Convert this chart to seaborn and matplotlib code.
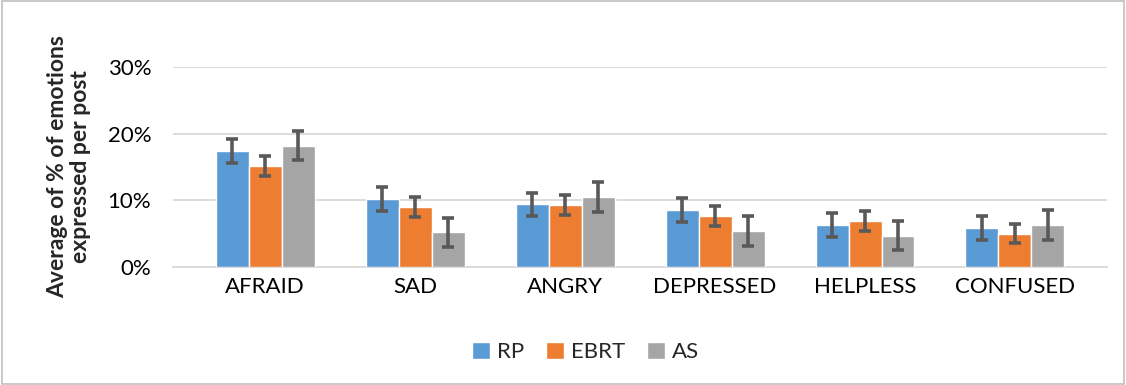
import numpy as np
import pandas as pd
import matplotlib.pyplot as plt
import seaborn as sns
from matplotlib.ticker import PercentFormatter
from matplotlib.patches import Rectangle

emotions = ["AFRAID", "SAD", "ANGRY", "DEPRESSED", "HELPLESS", "CONFUSED"]
groups = ["RP", "EBRT", "AS"]
rp = [17.4, 10.2, 9.4, 8.6, 6.3, 5.9]
ebrt = [15.1, 9.0, 9.3, 7.7, 6.9, 5.0]
as_ = [18.2, 5.2, 10.5, 5.4, 4.7, 6.3]
rp_err = [1.75, 1.8, 1.75, 1.8, 1.8, 1.8]
ebrt_err = [1.5, 1.5, 1.5, 1.5, 1.5, 1.45]
as_err = [2.2, 2.2, 2.2, 2.2, 2.2, 2.2]

df = pd.DataFrame({
    "emotion": emotions * 3,
    "group": ["RP"] * 6 + ["EBRT"] * 6 + ["AS"] * 6,
    "value": rp + ebrt + as_,
    "err": rp_err + ebrt_err + as_err,
})

sns.set_style("white")
plt.rcParams['font.family'] = ['Lato', 'DejaVu Sans']

fig = plt.figure(figsize=(11.26, 3.85), dpi=100)
ax = fig.add_axes([0.154, 0.3065, 0.829, 0.5195])

palette = {"RP": "#5B9BD5", "EBRT": "#ED7D31", "AS": "#A5A5A5"}
sns.barplot(data=df, x="emotion", y="value", hue="group", order=emotions,
            hue_order=groups, palette=palette, width=0.66, errorbar=None,
            saturation=1, ax=ax, zorder=3)

# error bars on bar centres
bars = [p for p in ax.patches if p.get_height() > 0]
for p, e in zip(bars, df["err"]):
    x = p.get_x() + p.get_width() / 2
    ax.errorbar(x, p.get_height(), yerr=e, color="#595959", lw=2.6,
                capsize=4.5, capthick=2.6, zorder=4)

ax.set_ylim(0, 30)
ax.set_yticks([0, 10, 20, 30])
ax.yaxis.set_major_formatter(PercentFormatter(decimals=0))
ax.grid(axis="y", color="#D9D9D9", lw=1.3, zorder=0)
for s in ["top", "right", "left"]:
    ax.spines[s].set_visible(False)
ax.spines["bottom"].set_color("#D9D9D9")
ax.spines["bottom"].set_linewidth(1.3)
ax.tick_params(axis="both", length=0, labelsize=16, colors="#000000")
ax.tick_params(axis="x", pad=7)
ax.tick_params(axis="y", pad=16)
ax.set_xlabel("")
ax.set_ylabel("Average of % of emotions\nexpressed per post", fontsize=16.5,
              fontweight="bold", labelpad=12, linespacing=1.1)

handles, labels = ax.get_legend_handles_labels()
ax.get_legend().remove()
fig.legend(handles, labels, loc="center", bbox_to_anchor=(0.52, 0.086),
           ncol=3, frameon=False, fontsize=16, handlelength=0.8,
           handleheight=0.8, columnspacing=1.0, handletextpad=0.3)

fig.patches.append(Rectangle((0.002, 0.003), 0.996, 0.994, transform=fig.transFigure,
                             fill=False, edgecolor="#BFBFBF", lw=1.2))

fig.savefig("out.png", dpi=100)
